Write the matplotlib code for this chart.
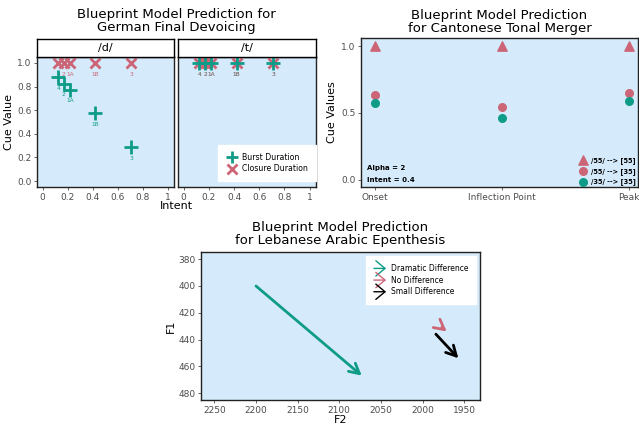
import matplotlib
matplotlib.use('Agg')
import matplotlib.pyplot as plt
import matplotlib.patches as mpatches
from matplotlib.legend_handler import HandlerPatch
from matplotlib.lines import Line2D
import numpy as np

BG = '#D5EAFA'
GREEN = '#0E9C88'
PINK = '#CC6677'
TICK = '#4D4D4D'

# German final devoicing
intent = [0.125, 0.17, 0.22, 0.42, 0.71]
intent_labels = ['4', '2', '1A', '1B', '3']
burst_d = [0.877, 0.824, 0.774, 0.574, 0.287]
closure_d = [1.0, 1.0, 1.0, 1.0, 1.0]
burst_t = [1.0, 1.0, 1.0, 1.0, 1.0]
closure_t = [1.0, 1.0, 1.0, 1.0, 1.0]

# Cantonese tonal merger
cues = ['Onset', 'Inflection Point', 'Peak']
tone_55_55 = [1.0, 1.0, 1.0]
tone_55_35 = [0.63, 0.54, 0.65]
tone_35_35 = [0.57, 0.46, 0.59]

# Lebanese Arabic epenthesis
arrow_names = ['Dramatic Difference', 'No Difference', 'Small Difference']
arrow_colors = [GREEN, PINK, 'black']
f2_start = [2200, 1977, 1984]
f1_start = [400, 431, 436]
f2_end = [2073, 1971, 1957]
f1_end = [467, 434, 454]


def style_axes(ax):
    ax.set_facecolor(BG)
    for s in ax.spines.values():
        s.set_color('#222222')
        s.set_linewidth(1.0)
    ax.tick_params(colors=TICK, labelsize=6.5, length=2.5, width=0.6, pad=1.5)
    ax.tick_params(axis='both', labelcolor=TICK)


fig = plt.figure(figsize=(6.39, 4.24), dpi=100)
W, H = 639, 424


def px_axes(x0, y0, x1, y1):
    return fig.add_axes([x0 / W, (H - y1) / H, (x1 - x0) / W, (y1 - y0) / H])


# ---- facet panels ----
panels = [('/d/', burst_d, closure_d, 37, 174), ('/t/', burst_t, closure_t, 178, 316)]
for i, (name, burst, closure, x0, x1) in enumerate(panels):
    ax = px_axes(x0, 57, x1, 187)
    style_axes(ax)
    ax.plot(intent, closure, 'x', color=PINK, ms=7, mew=2, label='Closure Duration', zorder=3)
    ax.plot(intent, burst, '+', color=GREEN, ms=10, mew=2, label='Burst Duration', zorder=4)
    for xv, yv, lab in zip(intent, closure, intent_labels):
        ax.annotate(lab, (xv, yv), xytext=(0, -8), textcoords='offset points',
                    ha='center', va='center', fontsize=4.2, color=PINK)
    for xv, yv, lab in zip(intent, burst, intent_labels):
        ax.annotate(lab, (xv, yv), xytext=(0, -8), textcoords='offset points',
                    ha='center', va='center', fontsize=4.2, color=GREEN if name == '/d/' else '#6a8a86')
    ax.set_xlim(-0.045, 1.05)
    ax.set_ylim(-0.05, 1.05)
    ax.set_xticks([0, 0.2, 0.4, 0.6, 0.8, 1])
    ax.set_xticklabels(['0', '0.2', '0.4', '0.6', '0.8', '1'])
    ax.set_yticks([0, 0.2, 0.4, 0.6, 0.8, 1.0])
    if i == 0:
        ax.set_yticklabels(['0.0', '0.2', '0.4', '0.6', '0.8', '1.0'])
        ax.set_ylabel('Cue Value', fontsize=8, labelpad=2)
    else:
        ax.set_yticklabels([])
        ax.tick_params(axis='y', length=0)
        handles = [Line2D([], [], marker='+', ls='', color=GREEN, ms=9, mew=2),
                   Line2D([], [], marker='x', ls='', color=PINK, ms=7, mew=2)]
        ax.legend(handles, ['Burst Duration', 'Closure Duration'], loc='lower right',
                  fontsize=5.6, frameon=True, fancybox=False, edgecolor='white',
                  framealpha=1, handletextpad=0.6, borderpad=1.0, labelspacing=0.35,
                  handlelength=1.5, bbox_to_anchor=(1.0, 0.045), borderaxespad=0)
    strip = px_axes(x0, 39, x1, 57)
    strip.set_xticks([])
    strip.set_yticks([])
    for s in strip.spines.values():
        s.set_linewidth(1.0)
    strip.text(0.5, 0.5, name, ha='center', va='center', fontsize=8, transform=strip.transAxes)

fig.text(176 / W, (H - 8) / H, 'Blueprint Model Prediction for\nGerman Final Devoicing',
         ha='center', va='top', fontsize=9.5, linespacing=1.0)
fig.text(176 / W, (H - 206) / H, 'Intent', ha='center', va='center', fontsize=8)

# ---- Cantonese ----
ax = px_axes(361, 38, 638, 187)
style_axes(ax)
xpos = np.arange(1, len(cues) + 1)
ax.scatter(xpos, tone_55_55, marker='^', s=45, color=PINK, label='/55/ --> [55]', zorder=3)
ax.scatter(xpos, tone_55_35, marker='o', s=30, color=PINK, label='/55/ --> [35]', zorder=3)
ax.scatter(xpos, tone_35_35, marker='o', s=30, color=GREEN, label='/35/ --> [35]', zorder=3)
ax.set_xlim(0.89, 3.07)
ax.set_ylim(-0.055, 1.06)
ax.set_xticks(xpos)
ax.set_xticklabels(cues)
ax.set_yticks([0, 0.5, 1.0])
ax.set_yticklabels(['0.0', '0.5', '1.0'])
ax.set_ylabel('Cue Values', fontsize=8, labelpad=3)
ax.set_title('Blueprint Model Prediction\nfor Cantonese Tonal Merger', fontsize=9.5,
             linespacing=1.0, pad=4)
ax.text(0.02, 0.125, 'Alpha = 2', transform=ax.transAxes, fontsize=5, fontweight='bold', va='center')
ax.text(0.02, 0.05, 'Intent = 0.4', transform=ax.transAxes, fontsize=5, fontweight='bold', va='center')
ax.legend(loc='lower right', frameon=False, handletextpad=0.4, scatterpoints=1,
          labelspacing=0.55, borderpad=0.25, handlelength=1.6, borderaxespad=0,
          prop={'weight': 'bold', 'size': 4.8}, bbox_to_anchor=(1.0, 0.0))

# ---- Lebanese Arabic ----
ax = px_axes(201, 252, 480, 400)
style_axes(ax)
for xs, ys, xe, ye, c in zip(f2_start, f1_start, f2_end, f1_end, arrow_colors):
    ax.annotate('', xy=(xe, ye), xytext=(xs, ys),
                arrowprops=dict(arrowstyle='->,head_length=0.6,head_width=0.32', lw=2,
                                color=c, shrinkA=0, shrinkB=0, mutation_scale=12))
ax.set_xlim(2266, 1931)
ax.set_ylim(485.2, 374.6)
ax.set_xticks([2250, 2200, 2150, 2100, 2050, 2000, 1950])
ax.set_yticks([380, 400, 420, 440, 460, 480])
ax.set_xlabel('F2', fontsize=8, labelpad=0)
ax.set_ylabel('F1', fontsize=8, labelpad=2)
ax.set_title('Blueprint Model Prediction\nfor Lebanese Arabic Epenthesis', fontsize=9.5,
             linespacing=1.0, pad=6)


def make_arrow(legend, orig_handle, xdescent, ydescent, width, height, fontsize):
    y = height / 2 - ydescent
    return mpatches.FancyArrowPatch((-xdescent, y), (width - xdescent, y),
                                    arrowstyle='->,head_length=0.6,head_width=0.5',
                                    mutation_scale=11, lw=2.6, shrinkA=0, shrinkB=0)


handles = [mpatches.FancyArrowPatch((0, 0), (1, 0), color=c) for c in arrow_colors]
ax.legend(handles, arrow_names, loc='upper right', fontsize=5.5, frameon=True,
          fancybox=False, edgecolor='white', framealpha=1, handlelength=1.6,
          handletextpad=0.6, borderpad=1.0, labelspacing=0.35,
          handler_map={mpatches.FancyArrowPatch: HandlerPatch(patch_func=make_arrow)},
          bbox_to_anchor=(0.985, 0.97), borderaxespad=0)

fig.savefig('out.png', dpi=100)
